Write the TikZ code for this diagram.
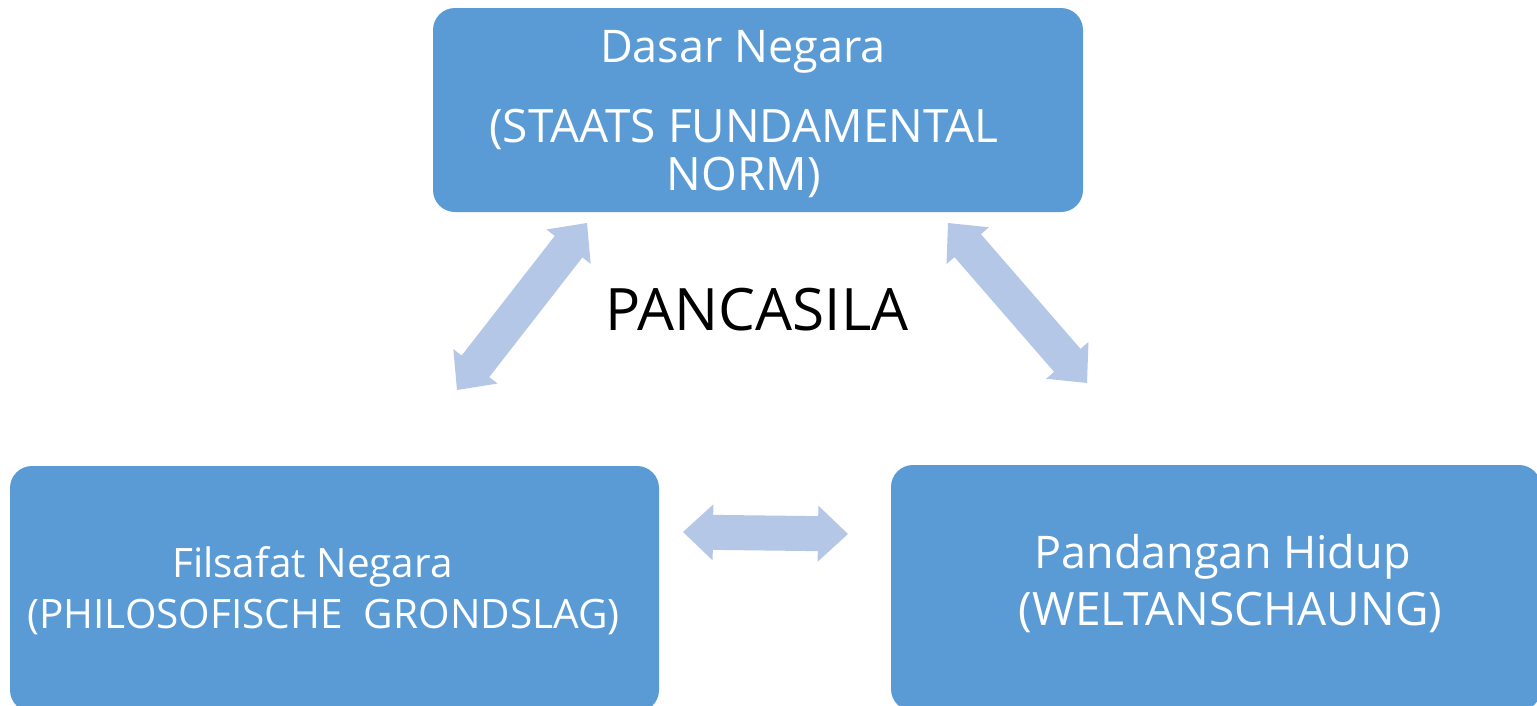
\documentclass[tikz,border=0pt]{standalone}
\usepackage{fontspec}
\setmainfont{Open Sans}
\usetikzlibrary{calc}
\definecolor{boxblue}{HTML}{5B9BD5}
\definecolor{arrowblue}{HTML}{B4C7E7}
\tikzset{
  box/.style={fill=boxblue, draw=none, rounded corners=22pt, inner sep=0pt},
  boxtxt/.style={text=white, inner sep=0pt, anchor=base},
  bigtxt/.style={font=\fontsize{46}{46}\selectfont},
  midtxt/.style={font=\fontsize{45}{45}\selectfont},
  smalltxt/.style={font=\fontsize{40.5}{40.5}\selectfont},
  titletxt/.style={text=black, inner sep=0pt, anchor=base, font=\fontsize{58.5}{58.5}\selectfont},
  dblarrow/.style={fill=arrowblue, draw=none},
}
\newcommand{\blockarrow}[2]{%
  \fill[dblarrow] (#1)
    -- ($(#1)!30pt!(#2)!28pt!90:(#2)$)
    -- ($(#1)!30pt!(#2)!17.5pt!90:(#2)$)
    -- ($(#2)!30pt!(#1)!17.5pt!-90:(#1)$)
    -- ($(#2)!30pt!(#1)!28pt!-90:(#1)$)
    -- (#2)
    -- ($(#2)!30pt!(#1)!28pt!90:(#1)$)
    -- ($(#2)!30pt!(#1)!17.5pt!90:(#1)$)
    -- ($(#1)!30pt!(#2)!17.5pt!-90:(#2)$)
    -- ($(#1)!30pt!(#2)!28pt!-90:(#2)$)
    -- cycle;}
\begin{document}
\begin{tikzpicture}[x=1pt, y=-1pt]
  \useasboundingbox (0,0) rectangle (1537,705);
  \clip (0,0) rectangle (1537,705);
  \fill[white] (0,0) rectangle (1537,705);

  % boxes
  \node[box, minimum width=650pt, minimum height=204pt] (top) at (758,110) {};
  \node[box, minimum width=649pt, minimum height=246pt] (left) at (334.5,589) {};
  \node[box, minimum width=650pt, minimum height=246pt] (right) at (1216,588) {};

  % texts
  \node[boxtxt, midtxt] (t1) at (743,62) {Dasar Negara};
  \node[boxtxt, bigtxt] (t2) at (744,142) {(STAATS FUNDAMENTAL};
  \node[boxtxt, bigtxt] (t3) at (744,190) {NORM)};
  \node[boxtxt, smalltxt] (l1) at (312.5,577) {Filsafat Negara};
  \node[boxtxt, smalltxt] (l2) at (323.5,628) {(PHILOSOFISCHE\ \ GRONDSLAG)};
  \node[boxtxt, midtxt] (r1) at (1222.5,568) {Pandangan Hidup};
  \node[boxtxt, bigtxt] (r2) at (1230.5,625) {(WELTANSCHAUNG)};
  \node[titletxt] (title) at (757,330) {PANCASILA};

  % arrows
  \coordinate (a1s) at (457,390);
  \coordinate (a1e) at (587,223);
  \coordinate (a2s) at (948,223);
  \coordinate (a2e) at (1087,383);
  \coordinate (a3s) at (683,532);
  \coordinate (a3e) at (848,534);
  \blockarrow{a1s}{a1e}
  \blockarrow{a2s}{a2e}
  \blockarrow{a3s}{a3e}
\end{tikzpicture}
\end{document}
